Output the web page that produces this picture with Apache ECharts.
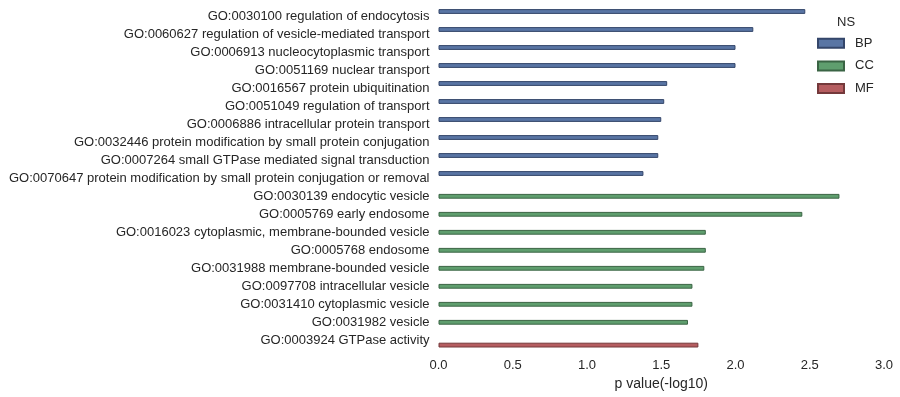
<!DOCTYPE html>
<html><head><meta charset="utf-8">
<script src="https://cdn.jsdelivr.net/npm/echarts@6/dist/echarts.min.js"></script>
<style>html,body{margin:0;padding:0;background:#fff}#c{width:900px;height:397px}</style>
</head><body><div id="c"></div>
<script>
const categories = [
  "GO:0030100 regulation of endocytosis",
  "GO:0060627 regulation of vesicle-mediated transport",
  "GO:0006913 nucleocytoplasmic transport",
  "GO:0051169 nuclear transport",
  "GO:0016567 protein ubiquitination",
  "GO:0051049 regulation of transport",
  "GO:0006886 intracellular protein transport",
  "GO:0032446 protein modification by small protein conjugation",
  "GO:0007264 small GTPase mediated signal transduction",
  "GO:0070647 protein modification by small protein conjugation or removal",
  "GO:0030139 endocytic vesicle",
  "GO:0005769 early endosome",
  "GO:0016023 cytoplasmic, membrane-bounded vesicle",
  "GO:0005768 endosome",
  "GO:0031988 membrane-bounded vesicle",
  "GO:0097708 intracellular vesicle",
  "GO:0031410 cytoplasmic vesicle",
  "GO:0031982 vesicle",
  "GO:0003924 GTPase activity"
];
const namespaces = ["BP","CC","MF"];
const bpValues = [2.47, 2.12, 2.00, 2.00, 1.54, 1.52, 1.50, 1.48, 1.48, 1.38, null, null, null, null, null, null, null, null, null];
const ccValues = [null, null, null, null, null, null, null, null, null, null, 2.70, 2.45, 1.80, 1.80, 1.79, 1.71, 1.71, 1.68, null];
const mfValues = [null, null, null, null, null, null, null, null, null, null, null, null, null, null, null, null, null, null, 1.75];
const xTicks = [0.0, 0.5, 1.0, 1.5, 2.0, 2.5, 3.0];

const fills = ["#5975a4", "#5f9e6e", "#b55d60"];
const edges = ["#34466a", "#3a6444", "#74393b"];
const txt = "#262626";
const font = "Liberation Sans, Arial, sans-serif";

const chart = echarts.init(document.getElementById('c'), null, {renderer: 'canvas'});
const mk = (name, data, i) => ({
  name: name, type: 'bar', data: data,
  barGap: '0%', barCategoryGap: '20%',
  itemStyle: {color: fills[i], borderColor: edges[i], borderWidth: 1},
  emphasis: {disabled: true}, animation: false
});
chart.setOption({
  backgroundColor: '#fff',
  animation: false,
  grid: {left: 438.5, right: 16, top: 7.3, bottom: 47.7, containLabel: false},
  xAxis: {
    type: 'value', min: xTicks[0], max: xTicks[xTicks.length-1], interval: 0.5,
    axisLine: {show: false}, axisTick: {show: false}, splitLine: {show: false},
    axisLabel: {color: txt, fontSize: 13, fontFamily: font, margin: 10, formatter: v => v.toFixed(1)},
    name: 'p value(-log10)', nameLocation: 'middle', nameGap: 27,
    nameTextStyle: {color: txt, fontSize: 14, fontFamily: font}
  },
  yAxis: {
    type: 'category', data: categories, inverse: true,
    axisLine: {show: false}, axisTick: {show: false}, splitLine: {show: false},
    axisLabel: {color: txt, fontSize: 13, fontFamily: font, margin: 9, padding: [0,0,3,0]}
  },
  legend: {
    data: namespaces, orient: 'vertical', left: 817, top: 36.7, padding: 0,
    itemWidth: 26, itemHeight: 9, itemGap: 9.7,
    textStyle: {color: txt, fontSize: 13, fontFamily: font, padding: [0,0,0,6]},
    icon: 'rect'
  },
  graphic: [{type: 'text', left: 837, top: 16, style: {text: 'NS', fill: txt, font: '13px ' + font}}],
  series: [mk(namespaces[0], bpValues, 0), mk(namespaces[1], ccValues, 1), mk(namespaces[2], mfValues, 2)]
});
</script></body></html>
